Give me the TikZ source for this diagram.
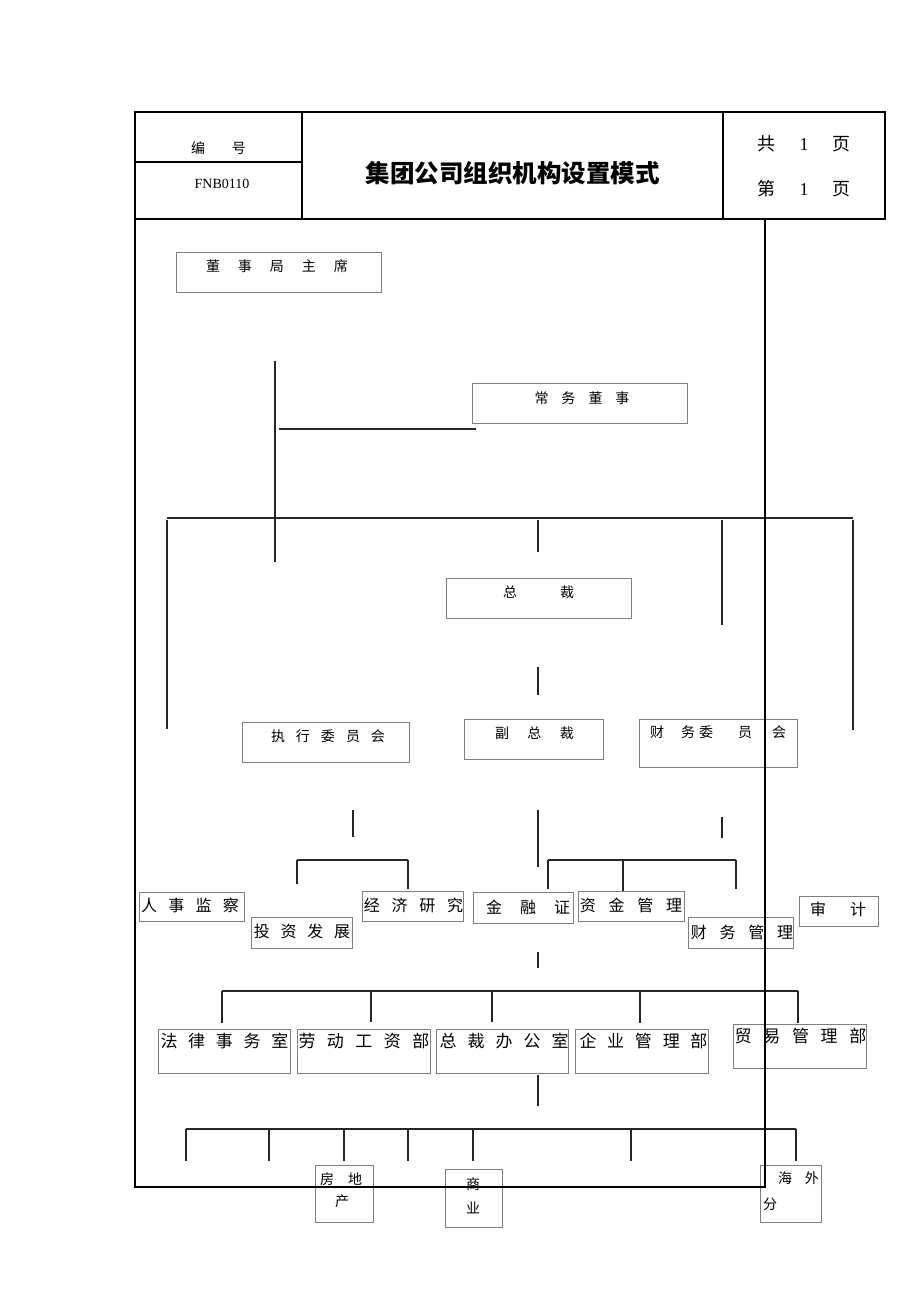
\documentclass[tikz,border=0pt]{standalone}
\usepackage{fontspec}
\setmainfont{Liberation Serif}
\newfontfamily\cjk{Noto Sans CJK SC}
\newfontfamily\tnr{Liberation Serif}
\newcommand\kgap[1]{\hspace{#1pt}}
\newcommand\mkseg[5]{\coordinate (#1a) at (#2,#3); \coordinate (#1b) at (#4,#5); \draw[conn] (#1a) -- (#1b);}
\newcommand\mkbox[5]{\node[boxst, minimum width={#4-#2}, minimum height={#5-#3}] (#1) at ({(#2+#4)/2},{(#3+#5)/2}) {};}
\begin{document}
\begin{tikzpicture}[x=1pt,y=-1pt,
  conn/.style={line width=1.1pt, draw=black!85},
  boxst/.style={draw=black!50, line width=0.8pt, inner sep=0pt, outer sep=0pt},
  frame/.style={line width=2.4pt, draw=black},
  tA/.style={font=\cjk\fontsize{14}{16}\selectfont, inner sep=0pt, text height=11pt, text depth=2pt},
  tB/.style={font=\cjk\fontsize{16}{18}\selectfont, inner sep=0pt, text height=12.5pt, text depth=2.5pt},
  tC/.style={font=\cjk\fontsize{17}{19}\selectfont, inner sep=0pt, text height=13.5pt, text depth=2.5pt},
  tH/.style={font=\fontsize{18}{20}\selectfont, inner sep=0pt},
  tT/.style={font=\cjk\bfseries\fontsize{24.5}{27}\selectfont, inner sep=0pt}]
\useasboundingbox (0,0) rectangle (920,1302);
\fill[white] (0,0) rectangle (920,1302);

% header texts
\node[tA] (hnum) at (218.5,149) {编\kgap{27}号};
\node[inner sep=0pt, font=\tnr\fontsize{14}{16}\selectfont] (hcode) at (222,184) {FNB0110};
\node[tT] (title) at (512.5,173) {集团公司组织机构设置模式};
\node[tH] (htot) at (803.5,144) {{\cjk 共}\kgap{24.5}{\tnr 1}\kgap{23.5}{\cjk 页}};
\node[tH] (hcur) at (803.5,189) {{\cjk 第}\kgap{24.5}{\tnr 1}\kgap{23.5}{\cjk 页}};

% boxes
\mkbox{chair}{176}{252}{381}{292}{}
\mkbox{exec}{472}{383}{687}{423}{}
\mkbox{pres}{446}{578}{631}{618}{}
\mkbox{comm}{242}{722}{409}{762}{}
\mkbox{vp}{464}{719}{603}{759}{}
\mkbox{fin}{639}{719}{797}{767}{}
\mkbox{hr}{139}{892}{244}{921}{}
\mkbox{inv}{251}{917}{352}{948}{}
\mkbox{eco}{362}{891}{463}{921}{}
\mkbox{sec}{473}{892}{573}{923}{}
\mkbox{fund}{578}{891}{684}{921}{}
\mkbox{acct}{688}{917}{793}{948}{}
\mkbox{audit}{799}{896}{878}{926}{}
\mkbox{law}{158}{1029}{290}{1073}{}
\mkbox{labor}{297}{1029}{430}{1073}{}
\mkbox{office}{436}{1029}{568}{1073}{}
\mkbox{ent}{575}{1029}{708}{1073}{}
\mkbox{trade}{733}{1024}{866}{1068}{}
\mkbox{estate}{315}{1165}{373}{1222}{}
\mkbox{comm2}{445}{1169}{502}{1227}{}
\mkbox{over}{760}{1165}{821}{1222}{}

% box texts
\node[tA] (tchair) at (277,267) {董\kgap{18}事\kgap{18}局\kgap{18}主\kgap{18}席};
\node[tA] (texec) at (582,399) {常\kgap{13}务\kgap{13}董\kgap{13}事};
\node[tA] (tpres) at (538.5,593) {总\kgap{43}裁};
\node[tA] (tcomm) at (328,737) {执\kgap{11}行\kgap{11}委\kgap{11}员\kgap{11}会};
\node[tA] (tvp) at (534.5,734) {副\kgap{18.5}总\kgap{18.5}裁};
\node[tA, anchor=west] (tfin) at (650,733) {财\kgap{17}务\kgap{4}委\kgap{25}员\kgap{20}会};
\node[tB] (thr) at (190,906) {人\kgap{11.3}事\kgap{11.3}监\kgap{11.3}察};
\node[tB] (tinv) at (302,932) {投\kgap{10.7}资\kgap{10.7}发\kgap{10.7}展};
\node[tB] (teco) at (413.5,906) {经\kgap{11.7}济\kgap{11.7}研\kgap{11.7}究};
\node[tB] (tsec) at (528,908) {金\kgap{18}融\kgap{18}证};
\node[tB] (tfund) at (631,906) {资\kgap{12.7}金\kgap{12.7}管\kgap{12.7}理};
\node[tB] (tacct) at (742,933) {财\kgap{12.7}务\kgap{12.7}管\kgap{12.7}理};
\node[tB] (taudit) at (838,910) {审\kgap{24}计};
\node[tC] (tlaw) at (224.5,1042) {法\kgap{10.75}律\kgap{10.75}事\kgap{10.75}务\kgap{10.75}室};
\node[tC] (tlabor) at (364,1042) {劳\kgap{11.5}动\kgap{11.5}工\kgap{11.5}资\kgap{11.5}部};
\node[tC] (toffice) at (504,1042) {总\kgap{11}裁\kgap{11}办\kgap{11}公\kgap{11}室};
\node[tC] (tent) at (643.5,1042) {企\kgap{10.75}业\kgap{10.75}管\kgap{10.75}理\kgap{10.75}部};
\node[tC] (ttrade) at (800.5,1037) {贸\kgap{11.75}易\kgap{11.75}管\kgap{11.75}理\kgap{11.75}部};
\node[tA] (testate1) at (341,1180) {房\kgap{14}地};
\node[tA] (testate2) at (342,1202) {产};
\node[tA] (tcomm2a) at (473,1185) {商};
\node[tA] (tcomm2b) at (473,1209) {业};
\node[tA] (tover1) at (798.5,1179) {海\kgap{13}外};
\node[tA] (tover2) at (770,1205) {分};

% connectors
\mkseg{s1}{275}{361}{275}{562}
\mkseg{s2}{279}{429}{476}{429}
\mkseg{s3}{167}{518}{853}{518}
\mkseg{s4}{167}{520}{167}{729}
\mkseg{s5}{538}{520}{538}{552}
\mkseg{s6}{722}{520}{722}{625}
\mkseg{s7}{853}{520}{853}{730}
\mkseg{s8}{538}{667}{538}{695}
\mkseg{s9}{353}{810}{353}{837}
\mkseg{s10}{538}{810}{538}{867}
\mkseg{s11}{722}{817}{722}{838}
\mkseg{s12}{297}{860}{408}{860}
\mkseg{s13}{297}{860}{297}{884}
\mkseg{s14}{408}{860}{408}{889}
\mkseg{s15}{548}{860}{736}{860}
\mkseg{s16}{548}{860}{548}{889}
\mkseg{s17}{623}{860}{623}{891}
\mkseg{s18}{736}{860}{736}{889}
\mkseg{s19}{538}{952}{538}{968}
\mkseg{s20}{222}{991}{798}{991}
\mkseg{s21}{222}{991}{222}{1023}
\mkseg{s22}{371}{991}{371}{1022}
\mkseg{s23}{492}{991}{492}{1022}
\mkseg{s24}{640}{991}{640}{1023}
\mkseg{s25}{798}{991}{798}{1023}
\mkseg{s26}{538}{1075}{538}{1106}
\mkseg{s27}{186}{1129}{796}{1129}
\mkseg{s28}{186}{1129}{186}{1161}
\mkseg{s29}{269}{1129}{269}{1161}
\mkseg{s30}{344}{1129}{344}{1161}
\mkseg{s31}{408}{1129}{408}{1161}
\mkseg{s32}{473}{1129}{473}{1161}
\mkseg{s33}{631}{1129}{631}{1161}
\mkseg{s34}{796}{1129}{796}{1161}

% frame
\draw[frame] (135,112) rectangle (885,219);
\draw[frame, line width=1.4pt] (302,112) -- (302,219);
\draw[frame, line width=1.4pt] (723,112) -- (723,219);
\draw[frame, line width=1.4pt] (135,162) -- (302,162);
\draw[frame, line cap=rect] (135,219) -- (135,1187) -- (765,1187) -- (765,219);
\end{tikzpicture}
\end{document}
